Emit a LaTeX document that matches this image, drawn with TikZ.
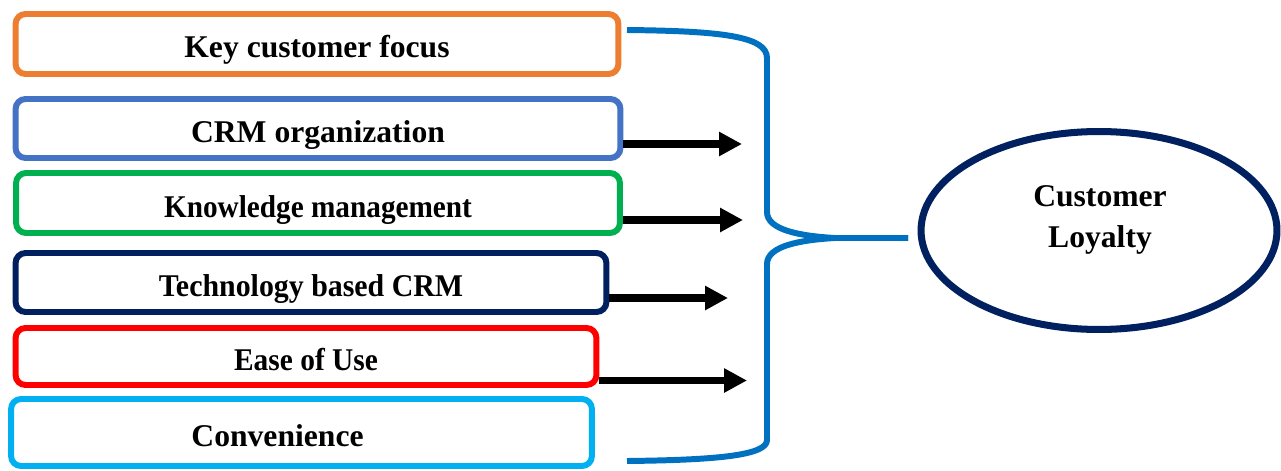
\documentclass[tikz,border=0pt]{standalone}
\usepackage{fontspec}
\setmainfont{Liberation Serif}
\usepackage{graphicx}
\usepackage{tikz}
\usetikzlibrary{shapes,arrows.meta,positioning}
\definecolor{kfOrange}{HTML}{ED7D31}
\definecolor{kfBlue}{HTML}{4472C4}
\definecolor{kfGreen}{HTML}{00B050}
\definecolor{kfNavy}{HTML}{002060}
\definecolor{kfRed}{HTML}{FF0000}
\definecolor{kfSky}{HTML}{00B0F0}
\definecolor{kfBrace}{HTML}{0070C0}
\newcommand{\boxfont}{\fontsize{18}{21}\selectfont\bfseries}
\tikzset{block/.style = {draw, rectangle, rounded corners = 0.2cm, line width = 3.4pt, minimum height = 1.2cm, inner sep = 0pt, text height = 0.56cm, text depth = 0pt},
         goal/.style = {draw = kfNavy, ellipse, line width = 4pt, minimum width = 7.12cm, minimum height = 3.96cm, inner sep = 0pt},
         link/.style = {line width = 4pt, -{Triangle[length = 0.46cm, width = 0.46cm]}},
         brace/.style = {draw = kfBrace, line width = 3.4pt},
}

\begin{document}
\begin{tikzpicture}[x = 0.02cm, y = -0.02cm]

  \useasboundingbox (0,0) rectangle (1281,470);

  \node[block, draw = kfOrange, minimum width = 12.06cm, font = \boxfont] (keyfocus) at (317,44) {Key customer focus};
  \node[block, draw = kfBlue, minimum width = 12.1cm, minimum height = 1.18cm, font = \boxfont] (crmorg) at (318,128.5) {CRM organization};
  \node[block, draw = kfGreen, minimum width = 12.08cm, font = \boxfont] (knowledge) at (318,203) {\scalebox{0.925}[1]{Knowledge management}};
  \node[block, draw = kfNavy, minimum width = 11.82cm, minimum height = 1.18cm, font = \boxfont] (techcrm) at (311,282.5) {\scalebox{0.945}[1]{Technology based CRM}};
  \node[block, draw = kfRed, minimum width = 11.62cm, minimum height = 1.14cm, font = \boxfont] (ease) at (306,356.5) {\scalebox{0.93}[1]{Ease of Use}};
  \node[block, draw = kfSky, minimum width = 11.62cm, minimum height = 1.34cm, font = \boxfont] (convenience) at (301.5,432.5) {\hspace*{-0.96cm}Convenience};

  \node[goal] (loyalty) at (1099,230.5) {};
  \node[align = center, font = \boxfont] (loyaltytext) at (1100,220) {Customer\\[2pt]Loyalty};

  % arrow ends
  \coordinate (crmtip) at (742,144);
  \coordinate (knowtip) at (743,220);
  \coordinate (techtip) at (728,298);
  \coordinate (easetip) at (747,380.5);

  \draw[link] (crmorg.east |- crmtip) -- (crmtip);
  \draw[link] (knowledge.east |- knowtip) -- (knowtip);
  \draw[link] (techcrm.east |- techtip) -- (techtip);
  \draw[link] (ease.east |- easetip) -- (easetip);

  % brace
  \draw[brace] (627,30) .. controls (720,31) and (767,36) .. (767,58) -- (767,212)
               .. controls (767,230) and (800,236) .. (835,238) -- (908,238);
  \draw[brace] (908,238) -- (835,238) .. controls (800,240) and (767,246) .. (767,264)
               -- (767,440) .. controls (767,455) and (720,460) .. (627,461);

\end{tikzpicture}
\end{document}
